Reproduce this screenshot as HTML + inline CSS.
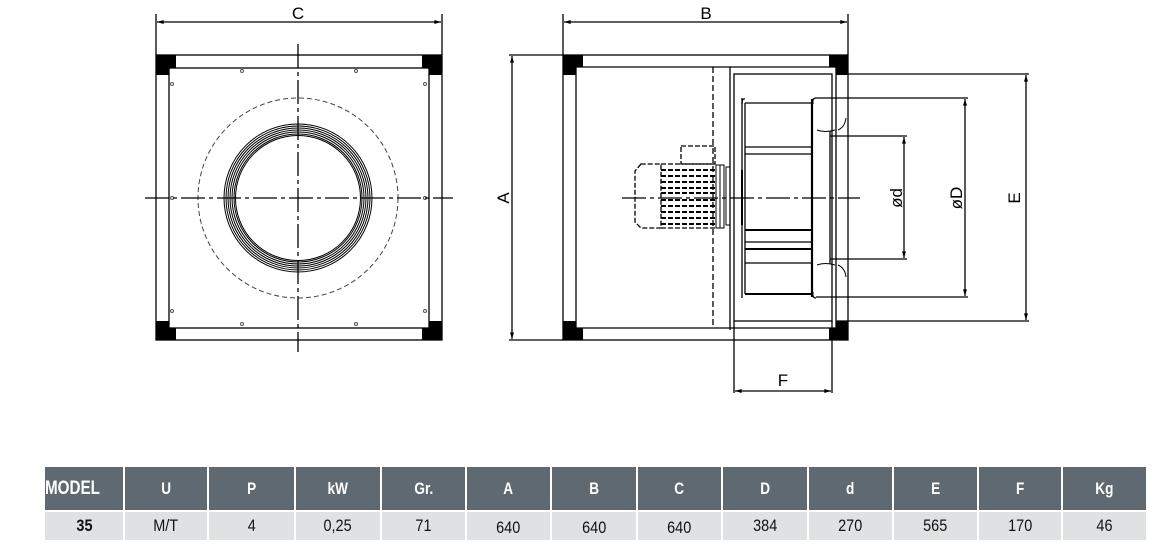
<!DOCTYPE html>
<html><head><meta charset="utf-8">
<style>
html,body{margin:0;padding:0;background:#fff;}
body{width:1166px;height:547px;position:relative;overflow:hidden;font-family:"Liberation Sans",sans-serif;}
svg{position:absolute;left:0;top:0;}
.c{position:absolute;display:flex;align-items:center;justify-content:center;font-family:"Liberation Sans Narrow","Liberation Sans",sans-serif;}
.c span{display:inline-block;transform:scaleX(0.85);}
.h{background:#5e6971;color:#fff;font-weight:bold;font-size:17px;top:467px;height:43px;}
.h span{transform:scaleX(0.8);}
.d{background:#dfe1e3;color:#111;font-size:17px;top:512px;height:28px;}
</style></head><body>
<svg width="1166" height="547" viewBox="0 0 1166 547" fill="none" stroke="#000" stroke-width="1.3">
<defs>
<marker id="ar" viewBox="0 0 10 6" refX="10" refY="3" markerWidth="10" markerHeight="4" orient="auto-start-reverse" markerUnits="userSpaceOnUse"><path d="M0,0 L10,3 L0,6z" fill="#000" stroke="none"/></marker>
</defs>
<line x1="156" y1="14" x2="156" y2="55"/><line x1="442" y1="14" x2="442" y2="55"/>
<line x1="157" y1="22" x2="441" y2="22" marker-start="url(#ar)" marker-end="url(#ar)"/>
<text x="298" y="19" font-size="17" fill="#000" stroke="none" text-anchor="middle" font-family="Liberation Sans">C</text>
<rect x="156" y="55" width="286" height="285"/>
<rect x="169" y="68" width="260" height="260"/>
<g fill="#000" stroke="none">
<rect x="156" y="55" width="20" height="13"/><rect x="156" y="55" width="13" height="20"/>
<rect x="422" y="55" width="20" height="13"/><rect x="429" y="55" width="13" height="20"/>
<rect x="156" y="328" width="20" height="12"/><rect x="156" y="321" width="13" height="19"/>
<rect x="422" y="328" width="20" height="12"/><rect x="429" y="321" width="13" height="19"/>
</g>
<g fill="none" stroke="#555" stroke-width="1"><circle cx="242" cy="71" r="1.5"/><circle cx="356" cy="71" r="1.5"/><circle cx="172" cy="84" r="1.5"/><circle cx="425" cy="84" r="1.5"/><circle cx="172" cy="198" r="1.5"/><circle cx="425" cy="198" r="1.5"/><circle cx="172" cy="311" r="1.5"/><circle cx="425" cy="311" r="1.5"/><circle cx="242" cy="324" r="1.5"/><circle cx="356" cy="324" r="1.5"/></g>
<circle cx="298" cy="198" r="100" stroke="#444" stroke-width="1" stroke-dasharray="5,3"/>
<g stroke-width="1"><circle cx="298" cy="198" r="74"/><circle cx="298" cy="198" r="72"/><circle cx="298" cy="198" r="70"/><circle cx="298" cy="198" r="68"/><circle cx="298" cy="198" r="66"/><circle cx="298" cy="198" r="64"/><circle cx="298" cy="198" r="62.5"/></g>
<line x1="298" y1="44" x2="298" y2="352" stroke-dasharray="24,4,4,4"/>
<line x1="145" y1="198" x2="453" y2="198" stroke-dasharray="24,4,4,4"/>
<line x1="563" y1="14" x2="563" y2="55"/><line x1="848" y1="14" x2="848" y2="55"/>
<line x1="564" y1="22" x2="847" y2="22" marker-start="url(#ar)" marker-end="url(#ar)"/>
<text x="706" y="19" font-size="17" fill="#000" stroke="none" text-anchor="middle" font-family="Liberation Sans">B</text>
<line x1="509" y1="55" x2="563" y2="55"/><line x1="509" y1="340" x2="563" y2="340"/>
<line x1="512" y1="56" x2="512" y2="339" marker-start="url(#ar)" marker-end="url(#ar)"/>
<text x="0" y="0" font-size="17" fill="#000" stroke="none" text-anchor="middle" transform="translate(509,198) rotate(-90)">A</text>
<rect x="563" y="55" width="285" height="285"/>
<line x1="563" y1="67" x2="848" y2="67"/><line x1="563" y1="328" x2="848" y2="328"/>
<line x1="576" y1="67" x2="576" y2="328"/><line x1="836" y1="67" x2="836" y2="328"/>
<line x1="713" y1="67" x2="713" y2="328" stroke-dasharray="6,3"/>
<line x1="730" y1="67" x2="730" y2="330"/>
<rect x="734" y="74" width="98" height="247"/>
<line x1="734" y1="321" x2="734" y2="393"/><line x1="832" y1="321" x2="832" y2="393"/>
<g fill="#000" stroke="none">
<rect x="563" y="55" width="20" height="12"/><rect x="563" y="55" width="13" height="20"/>
<rect x="829" y="55" width="19" height="12"/><rect x="836" y="55" width="12" height="20"/>
<rect x="563" y="328" width="20" height="12"/><rect x="563" y="321" width="13" height="19"/>
<rect x="829" y="328" width="19" height="12"/><rect x="836" y="321" width="12" height="19"/>
</g>
<path d="M742,98 L742,298"/><path d="M745,99 Q742,98 742,104"/>
<line x1="745" y1="103" x2="745" y2="294"/>
<line x1="745" y1="103" x2="812" y2="103"/><line x1="745" y1="294" x2="812" y2="294" stroke-width="2"/>
<line x1="745" y1="147" x2="812" y2="147"/><line x1="745" y1="154" x2="812" y2="154"/>
<line x1="745" y1="230" x2="812" y2="230" stroke-width="2"/><line x1="745" y1="242" x2="812" y2="242"/>
<line x1="745" y1="249" x2="812" y2="249" stroke-width="2"/><line x1="745" y1="263" x2="812" y2="263"/>
<line x1="812" y1="99" x2="812" y2="297" stroke-width="2.2"/>
<path d="M816,98 Q812,98 813,104"/><path d="M816,298 Q812,298 813,292"/>
<line x1="816" y1="98" x2="968" y2="98"/><line x1="816" y1="297" x2="968" y2="297"/>
<path d="M817,130 Q825,133 835,130 M838,130 Q845,127 846,118" stroke-width="1"/>
<path d="M817,265 Q825,262 835,265 M838,265 Q845,268 846,277" stroke-width="1"/>
<line x1="830" y1="131" x2="830" y2="264"/>
<line x1="830" y1="136" x2="907" y2="136"/><line x1="830" y1="259" x2="907" y2="259"/>
<line x1="836" y1="74" x2="1029" y2="74"/><line x1="836" y1="321" x2="1029" y2="321"/>
<line x1="742" y1="170" x2="742" y2="225" stroke-width="2"/>
<g stroke-dasharray="5,2" stroke-width="1.3">
<path d="M641,164 L635,171 L635,222 L641,228 L661,228 L661,164 Z"/>
<rect x="681" y="146" width="34" height="18"/>
<line x1="661" y1="164" x2="715" y2="164"/><line x1="661" y1="228" x2="715" y2="228"/>
<g stroke-width="2"><line x1="661" y1="170" x2="715" y2="170"/><line x1="661" y1="176" x2="715" y2="176"/><line x1="661" y1="182" x2="715" y2="182"/><line x1="661" y1="188" x2="715" y2="188"/><line x1="661" y1="193" x2="715" y2="193"/><line x1="661" y1="200" x2="715" y2="200"/><line x1="661" y1="206" x2="715" y2="206"/><line x1="661" y1="212" x2="715" y2="212"/><line x1="661" y1="218" x2="715" y2="218"/><line x1="661" y1="224" x2="715" y2="224"/></g>
</g>
<rect x="716" y="165" width="8" height="63" stroke-width="1"/>
<rect x="726" y="167" width="4" height="58" stroke-width="1"/>
<line x1="720" y1="165" x2="720" y2="228" stroke-width="1"/>
<line x1="622" y1="198" x2="860" y2="198" stroke-dasharray="24,4,4,4"/>
<line x1="904" y1="137" x2="904" y2="258" marker-start="url(#ar)" marker-end="url(#ar)"/>
<line x1="965" y1="99" x2="965" y2="296" marker-start="url(#ar)" marker-end="url(#ar)"/>
<line x1="1026" y1="75" x2="1026" y2="320" marker-start="url(#ar)" marker-end="url(#ar)"/>
<text font-size="17" fill="#000" stroke="none" text-anchor="middle" transform="translate(902,198) rotate(-90)">ød</text>
<text font-size="17" fill="#000" stroke="none" text-anchor="middle" transform="translate(962,198) rotate(-90)">øD</text>
<text font-size="17" fill="#000" stroke="none" text-anchor="middle" transform="translate(1020,198) rotate(-90)">E</text>
<line x1="735" y1="391" x2="831" y2="391" marker-start="url(#ar)" marker-end="url(#ar)"/>
<text x="783" y="386" font-size="17" fill="#000" stroke="none" text-anchor="middle">F</text>
</svg>
<div class="c h" style="left:45px;width:78px;justify-content:flex-start;font-size:19px;"><span style="transform-origin:left center">MODEL</span></div>
<div class="c h" style="left:125px;width:82px"><span>U</span></div>
<div class="c h" style="left:209px;width:85px"><span>P</span></div>
<div class="c h" style="left:296px;width:84px"><span>kW</span></div>
<div class="c h" style="left:382px;width:83px"><span>Gr.</span></div>
<div class="c h" style="left:467px;width:83px"><span>A</span></div>
<div class="c h" style="left:552px;width:84px"><span>B</span></div>
<div class="c h" style="left:638px;width:83px"><span>C</span></div>
<div class="c h" style="left:723px;width:84px"><span>D</span></div>
<div class="c h" style="left:809px;width:83px"><span>d</span></div>
<div class="c h" style="left:894px;width:83px"><span>E</span></div>
<div class="c h" style="left:979px;width:82px"><span>F</span></div>
<div class="c h" style="left:1063px;width:83px"><span>Kg</span></div>
<div class="c d" style="left:45px;width:78px;font-weight:bold"><span>35</span></div>
<div class="c d" style="left:125px;width:82px"><span>M/T</span></div>
<div class="c d" style="left:209px;width:85px"><span>4</span></div>
<div class="c d" style="left:296px;width:84px"><span>0,25</span></div>
<div class="c d" style="left:382px;width:83px"><span>71</span></div>
<div class="c d" style="left:467px;width:83px;padding-top:4px;box-sizing:border-box"><span>640</span></div>
<div class="c d" style="left:552px;width:84px;padding-top:4px;box-sizing:border-box"><span>640</span></div>
<div class="c d" style="left:638px;width:83px;padding-top:4px;box-sizing:border-box"><span>640</span></div>
<div class="c d" style="left:723px;width:84px"><span>384</span></div>
<div class="c d" style="left:809px;width:83px"><span>270</span></div>
<div class="c d" style="left:894px;width:83px"><span>565</span></div>
<div class="c d" style="left:979px;width:82px"><span>170</span></div>
<div class="c d" style="left:1063px;width:83px"><span>46</span></div>
</body></html>
